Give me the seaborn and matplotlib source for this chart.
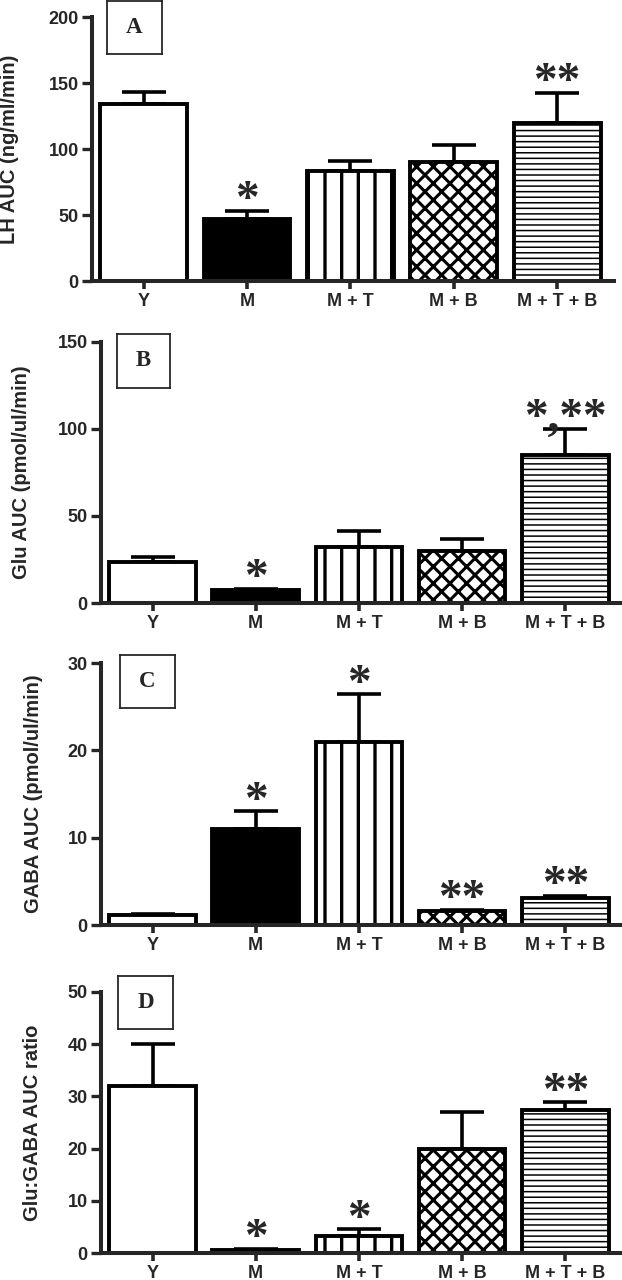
import matplotlib
matplotlib.use("Agg")
import matplotlib.pyplot as plt
import seaborn as sns
import numpy as np
import pandas as pd

# ---------------- data ----------------
groups = ["Y", "M", "M + T", "M + B", "M + T + B"]

lh_auc = [134, 47, 83, 90, 119.7]
lh_err = [9, 6, 8, 13, 23]
lh_stars = ["", "*", "", "", "**"]

glu_auc = [23.5, 7.6, 32.1, 29.6, 84.8]
glu_err = [2.7, 0.4, 9.4, 7.4, 15.3]
glu_stars = ["", "*", "", "", "*,**"]

gaba_auc = [1.18, 11.0, 21.0, 1.64, 3.08]
gaba_err = [0.12, 2.0, 5.4, 0.08, 0.27]
gaba_stars = ["", "*", "*", "**", "**"]

ratio_auc = [32.0, 0.58, 3.2, 20.0, 27.3]
ratio_err = [8.1, 0.2, 1.35, 7.1, 1.6]
ratio_stars = ["", "*", "*", "", "**"]

ylabels = ["LH AUC (ng/ml/min)", "Glu AUC (pmol/ul/min)",
           "GABA AUC (pmol/ul/min)", "Glu:GABA AUC ratio"]
yticks_list = [[0, 50, 100, 150, 200], [0, 50, 100, 150],
               [0, 10, 20, 30], [0, 10, 20, 30, 40, 50]]
panel_letters = ["A", "B", "C", "D"]

# ---------------- style ----------------
sns.set_style("ticks")
plt.rcParams["font.family"] = ["Liberation Sans", "DejaVu Sans"]
plt.rcParams["hatch.linewidth"] = 2.0

W, H = 622, 1280
fig = plt.figure(figsize=(W / 100, H / 100), dpi=100)


def rect(l, r, t, b):
    return [l / W, 1 - b / H, (r - l) / W, (b - t) / H]


# layout (pixels): axes l, r, t, b ; box l, r, t, b ; ylabel right x
layout = [
    dict(ax=(92, 614, 17, 281), box=(107, 162, 1, 54), lab=19),
    dict(ax=(101, 622, 342, 603), box=(117, 170, 334, 388), lab=31),
    dict(ax=(101, 622, 663, 925), box=(120, 175, 655, 708), lab=43),
    dict(ax=(101, 622, 992, 1253), box=(118, 173, 976, 1029), lab=42),
]

series = [(lh_auc, lh_err, lh_stars), (glu_auc, glu_err, glu_stars),
          (gaba_auc, gaba_err, gaba_stars), (ratio_auc, ratio_err, ratio_stars)]

fills = ["white", "black", "white", "white", "white"]
hatches = [None, None, "|", "xx", "---"]
hatch_lw = [1, 1, 2.4, 2.2, 1.1]

for k in range(4):
    lay = layout[k]
    vals, errs, stars = series[k]
    l, r, t, b = lay["ax"]
    ax = fig.add_axes(rect(l, r, t, b))
    df = pd.DataFrame({"group": groups, "value": vals})
    sns.barplot(data=df, x="group", y="value", ax=ax, width=0.84,
                color="white", edgecolor="black", linewidth=2.8,
                errorbar=None, zorder=2)
    for i, p in enumerate(ax.patches):
        p.set_facecolor(fills[i])
        p.set_edgecolor("black")
        if hatches[i]:
            p.set_hatch(hatches[i])
            if hasattr(p, "set_hatch_linewidth"):
                p.set_hatch_linewidth(hatch_lw[i])
    xs = np.arange(len(groups))
    ax.errorbar(xs, vals, yerr=[np.zeros(len(vals)), errs], fmt="none",
                ecolor="black", elinewidth=2.6, capsize=15.5, capthick=2.6,
                zorder=1)
    tops = np.array(vals) + np.array(errs)
    for i, s in enumerate(stars):
        if s:
            ax.annotate(s, xy=(xs[i], tops[i]), xytext=(0, -1),
                        textcoords="offset points", ha="center",
                        va="baseline", fontsize=34, fontweight="bold",
                        family=["Liberation Serif", "DejaVu Serif"],
                        annotation_clip=False)
    yt = yticks_list[k]
    ax.set_ylim(0, yt[-1])
    ax.set_yticks(yt)
    ax.set_xlim(-0.5, 4.55)
    ax.set_xlabel("")
    ax.set_ylabel(ylabels[k], fontsize=14.5, fontweight="bold")
    ax.yaxis.set_label_coords((lay["lab"] - l) / (r - l), 0.5)
    ax.tick_params(axis="y", direction="out", length=7, width=2.4,
                   labelsize=13, pad=2.5)
    ax.tick_params(axis="x", direction="out", length=6, width=2.6,
                   labelsize=13, pad=3)
    for lbl in ax.get_yticklabels() + ax.get_xticklabels():
        lbl.set_fontweight("bold")
    sns.despine(ax=ax)
    for side in ["left", "bottom"]:
        ax.spines[side].set_linewidth(2.9)
    ax.patch.set_alpha(0)

    # panel letter box
    bl, br, bt, bb = lay["box"]
    bx = fig.add_axes(rect(bl, br, bt, bb))
    bx.set_xticks([])
    bx.set_yticks([])
    for sp in bx.spines.values():
        sp.set_linewidth(1.3)
        sp.set_visible(True)
    bx.set_facecolor("white")
    bx.text(0.5, 0.5, panel_letters[k], ha="center", va="center",
            fontsize=16.5, fontweight="bold",
            family=["Liberation Serif", "DejaVu Serif"],
            transform=bx.transAxes)

fig.savefig("out.png", dpi=100, facecolor="white")
